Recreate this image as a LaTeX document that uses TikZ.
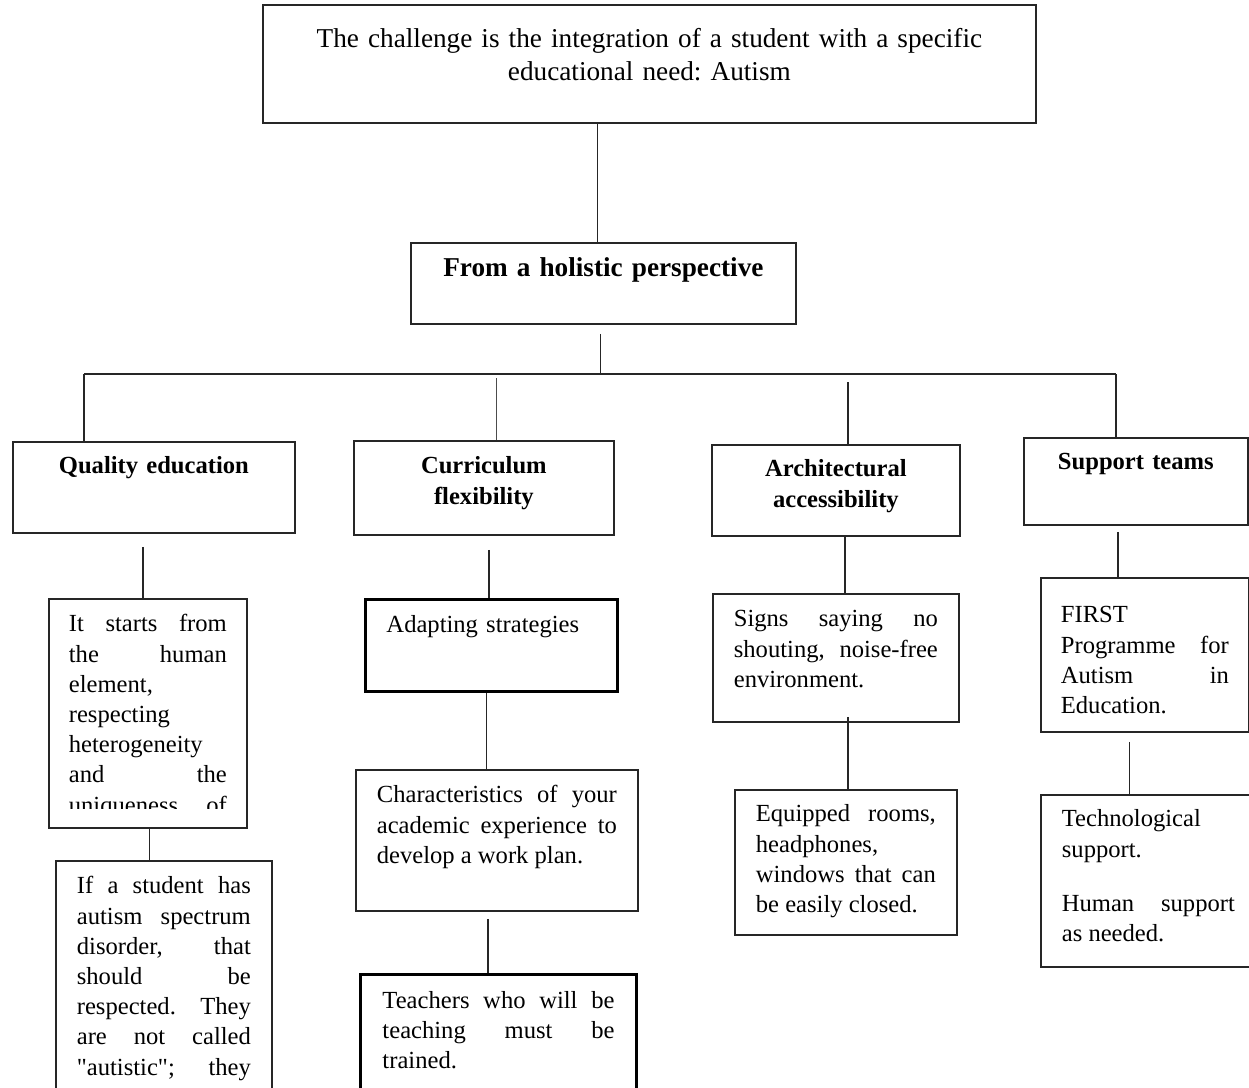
\documentclass[tikz,border=0pt]{standalone}
\usepackage{fontspec}
\setmainfont{Liberation Serif}
\usepackage{tikz}
\newlength\px
\setlength\px{0.02cm}
\newcommand\bigboxfont{\fontsize{15.5pt}{18.7pt}\selectfont}
\newcommand\boxfont{\fontsize{14pt}{17.2pt}\selectfont}
\frenchspacing

\begin{document}
\begin{tikzpicture}[x=0.02cm, y=-0.02cm,
    box/.style={draw=black!85, line width=1pt, anchor=north west, inner ysep=0pt, font=\boxfont},
    head/.style={box, inner xsep=0pt, align=center, font=\boxfont\bfseries},
    note/.style={box, align=justify},
    heavy/.style={line width=1.7pt, draw=black},
    link/.style={line width=0.9pt, draw=black!85}]
  \useasboundingbox (0,0) rectangle (1249,1088);
  \node[head, font=\bigboxfont, text width=773\px, text height=43\px, text depth=75\px] (top) at (262,4)
    {The challenge is the integration of a student with a specific\\ educational need: Autism};
  \node[head, font=\bigboxfont\bfseries, text width=385\px, text height=34\px, text depth=47\px] (hol) at (410,242)
    {From a holistic perspective};
  \node[head, text width=282\px, text height=32\px, text depth=59\px] (qual) at (12,441) {Quality education};
  \node[head, text width=260\px, text height=33\px, text depth=61\px] (curr) at (353,440) {Curriculum\\ flexibility};
  \node[head, text width=248\px, text height=32\px, text depth=59\px] (arch) at (711,444) {Architectural\\ accessibility};
  \node[head, text width=224\px, text height=32\px, text depth=55\px] (supp) at (1023,437) {Support teams};
  \begin{scope}
    \clip (0,590) rectangle (300,808);
    \node[note, draw=none, inner xsep=19\px, text width=158\px, text height=32\px, text depth=195\px] (q1) at (49,599)
      {It starts from\linebreak the human\linebreak element,\linebreak respecting\linebreak heterogeneity\linebreak and the\linebreak uniqueness of\linebreak\mbox{}};
  \end{scope}
  \draw[line width=1pt, black!85] (q1.north west) rectangle (q1.south east);
  \node[note, inner xsep=21\px, text width=174\px, text height=33\px, text depth=207\px] (q2) at (55,860)
    {If a student has\linebreak autism spectrum\linebreak disorder, that\linebreak should be\linebreak respected. They\linebreak are not called\linebreak \textquotedbl autistic\textquotedbl; they\linebreak\mbox{}};
  \node[box, heavy, inner xsep=21\px, text width=210\px, align=left, text height=33\px, text depth=59\px] (c1) at (364,598)
    {Adapting strategies};
  \node[note, inner xsep=21\px, text width=240\px, text height=33\px, text depth=108\px] (c2) at (355,769)
    {Characteristics of your\linebreak academic experience to\linebreak develop a work plan.};
  \node[note, heavy, inner xsep=22\px, text width=232\px, text height=34\px, text depth=93\px] (c3) at (359,973)
    {Teachers who will be\linebreak teaching must be\linebreak trained.};
  \node[note, inner xsep=21\px, text width=204\px, text height=33\px, text depth=95\px] (a1) at (712,593)
    {Signs saying no\linebreak shouting, noise-free\linebreak environment.};
  \node[note, inner xsep=21\px, text width=180\px, text height=32\px, text depth=113\px] (a2) at (734,789)
    {Equipped rooms,\linebreak headphones,\linebreak windows that can\linebreak be easily closed.};
  \node[note, inner xsep=20\px, text width=168\px, text height=45\px, text depth=109\px] (s1) at (1040,577)
    {FIRST\linebreak Programme for\linebreak Autism in\linebreak Education.};
  \node[note, inner xsep=21\px, text width=173\px, text height=32\px, text depth=140\px] (s2) at (1040,794)
    {Technological\linebreak support.\par\vskip 24\px Human support\linebreak as needed.};

  \coordinate (barL) at (84,374);
  \coordinate (barR) at (1116,374);
  \coordinate (dropB) at (496,378);
  \coordinate (dropC) at (848,382);
  \draw[link] ([xshift=-6\px]hol.north |- top.south) -- ([xshift=-6\px]hol.north);
  \draw[link] ([xshift=-3\px, yshift=-9\px]hol.south) -- ([xshift=-3\px]hol.south |- barL);
  \draw[link] (barL) -- (barR);
  \draw[link] (barL) -- (barL |- qual.north);
  \draw[line width=0.5pt, black!70] (dropB) -- (dropB |- curr.north);
  \draw[link] (dropC) -- (dropC |- arch.north);
  \draw[link] (barR) -- (barR |- supp.north);
  \draw[link] ([xshift=-11\px, yshift=-13\px]qual.south) -- ([xshift=-11\px]qual.south |- q1.north);
  \draw[link] ([xshift=1.5\px]q1.south) -- ([xshift=1.5\px]q1.south |- q2.north);
  \draw[link] ([xshift=5\px, yshift=-14\px]curr.south) -- ([xshift=5\px]curr.south |- c1.north);
  \draw[link] ([xshift=-5\px]c1.south) -- ([xshift=-5\px]c1.south |- c2.north);
  \draw[link] ([xshift=-9\px, yshift=-7\px]c2.south) -- ([xshift=-9\px]c2.south |- c3.north);
  \draw[link] ([xshift=9\px]arch.south) -- ([xshift=9\px]arch.south |- a1.north);
  \draw[link] ([xshift=12\px, yshift=6\px]a1.south) -- ([xshift=12\px]a1.south |- a2.north);
  \draw[link] ([xshift=-18\px, yshift=-6\px]supp.south) -- ([xshift=-18\px]supp.south |- s1.north);
  \draw[link] ([xshift=-15.5\px, yshift=-9\px]s1.south) -- ([xshift=-15.5\px]s1.south |- s2.north);
\end{tikzpicture}
\end{document}
